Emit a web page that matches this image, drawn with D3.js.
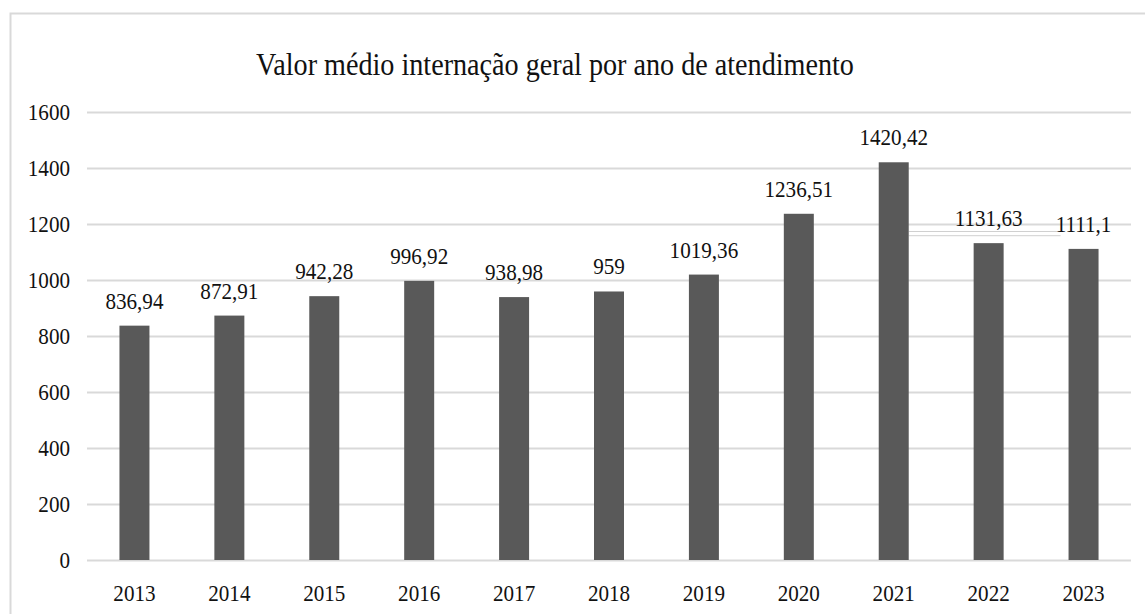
<!DOCTYPE html>
<html>
<head>
<meta charset="utf-8">
<script src="https://cdn.jsdelivr.net/npm/d3@7"></script>
<style>
  body { margin: 0; background: #fff; }
  svg text { font-family: "Liberation Serif", "Times New Roman", "DejaVu Serif", serif; fill: #111; }
</style>
</head>
<body>
<svg></svg>
<script>
var years = ['2013', '2014', '2015', '2016', '2017', '2018', '2019', '2020', '2021', '2022', '2023'];
var values = [836.94, 872.91, 942.28, 996.92, 938.98, 959, 1019.36, 1236.51, 1420.42, 1131.63, 1111.1];
var labels = ['836,94', '872,91', '942,28', '996,92', '938,98', '959', '1019,36', '1236,51', '1420,42', '1131,63', '1111,1'];
var yTicks = [0, 200, 400, 600, 800, 1000, 1200, 1400, 1600];
var title = 'Valor médio internação geral por ano de atendimento';

var W = 1145, H = 614;
var margin = { top: 112, right: 14, bottom: 54, left: 87 };
var width = W - margin.left - margin.right;
var height = H - margin.top - margin.bottom;
var squeeze = 0.88;

var svg = d3.select('svg')
  .attr('width', W)
  .attr('height', H);

// chart frame
svg.append('rect')
  .attr('x', 10.5)
  .attr('y', 13.5)
  .attr('width', W)
  .attr('height', H)
  .attr('fill', 'none')
  .attr('stroke', '#d9d9d9')
  .attr('stroke-width', 2);

var g = svg.append('g')
  .attr('transform', 'translate(' + margin.left + ',' + margin.top + ')');

var x = d3.scaleBand()
  .domain(years)
  .range([0, width])
  .paddingInner(0.684)
  .paddingOuter(0.342);

var y = d3.scaleLinear()
  .domain([0, 1600])
  .range([height, 0]);

function squeezed(sel, fx, fy) {
  sel.attr('transform', function(d, i) {
    return 'translate(' + fx(d, i) + ',' + fy(d, i) + ') scale(' + squeeze + ',1)';
  });
}

// gridlines
g.selectAll('.grid')
  .data(yTicks)
  .enter().append('line')
  .attr('class', 'grid')
  .attr('x1', 0)
  .attr('x2', width)
  .attr('y1', function(d) { return Math.round(y(d)) + 0.5; })
  .attr('y2', function(d) { return Math.round(y(d)) + 0.5; })
  .attr('stroke', '#d9d9d9')
  .attr('stroke-width', 2);

// y labels
g.selectAll('.ylab')
  .data(yTicks)
  .enter().append('text')
  .attr('class', 'ylab')
  .attr('text-anchor', 'end')
  .attr('font-size', 24)
  .text(function(d) { return d; })
  .call(squeezed, function() { return -17; }, function(d) { return y(d) + 8; });

// leader lines from moved labels
[1160, 1175].forEach(function(v) {
  g.append('line')
    .attr('x1', x('2021') + x.bandwidth())
    .attr('x2', x('2023') - 8)
    .attr('y1', y(v) + 0.5)
    .attr('y2', y(v) + 0.5)
    .attr('stroke', '#d0d0d0')
    .attr('stroke-width', 1);
});

// bars
g.selectAll('.bar')
  .data(values)
  .enter().append('rect')
  .attr('class', 'bar')
  .attr('x', function(d, i) { return x(years[i]); })
  .attr('y', function(d) { return y(d); })
  .attr('width', x.bandwidth())
  .attr('height', function(d) { return y(0) - y(d); })
  .attr('fill', '#595959');

// value labels
g.selectAll('.vlab')
  .data(values)
  .enter().append('text')
  .attr('class', 'vlab')
  .attr('text-anchor', 'middle')
  .attr('font-size', 24)
  .text(function(d, i) { return labels[i]; })
  .call(squeezed, function(d, i) { return x(years[i]) + x.bandwidth() / 2; }, function(d) { return y(d) - 17; });

// x labels
g.selectAll('.xlab')
  .data(years)
  .enter().append('text')
  .attr('class', 'xlab')
  .attr('text-anchor', 'middle')
  .attr('font-size', 24)
  .text(function(d) { return d; })
  .call(squeezed, function(d) { return x(d) + x.bandwidth() / 2; }, function() { return height + 41; });

// title
svg.append('text')
  .attr('text-anchor', 'middle')
  .attr('font-size', 32)
  .text(title)
  .attr('transform', 'translate(555,75) scale(' + squeeze + ',1)');
</script>
</body>
</html>
